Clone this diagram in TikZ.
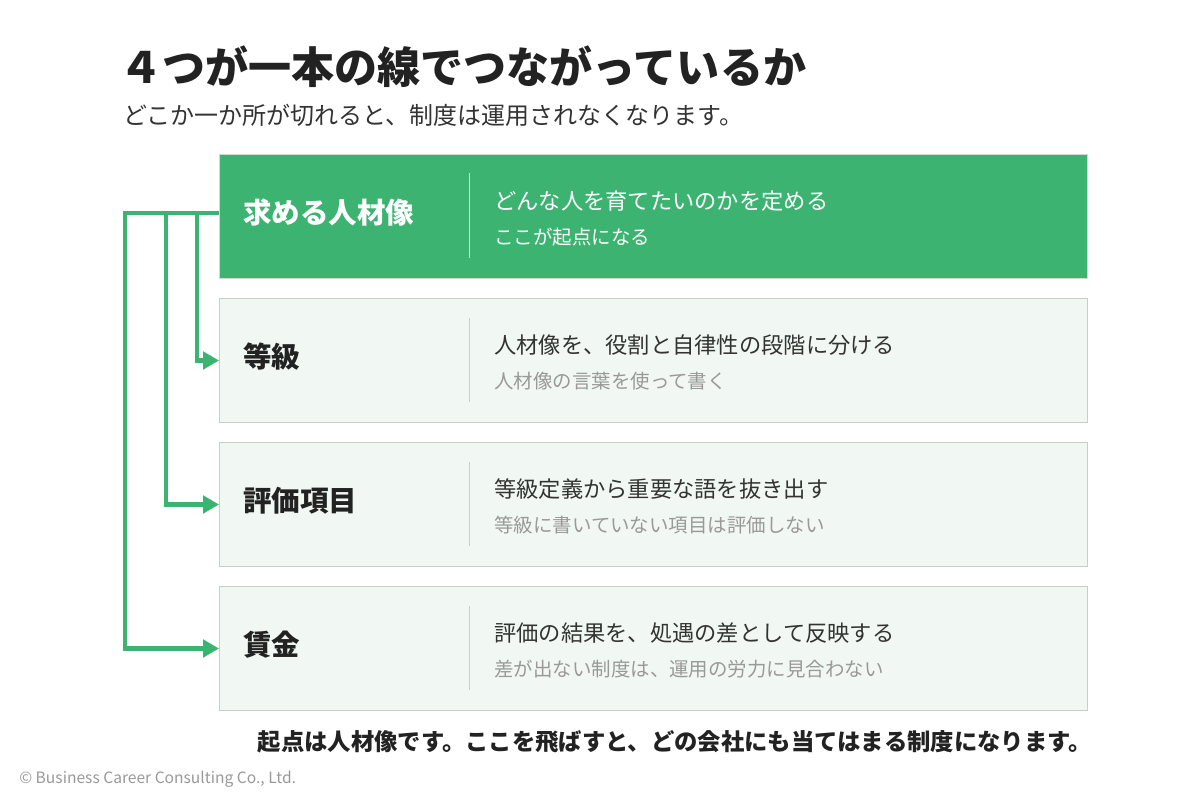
\documentclass[tikz,border=0pt]{standalone}
\usepackage{fontspec}
\setmainfont{Noto Sans CJK JP}
\usetikzlibrary{arrows.meta}
\definecolor{grn}{HTML}{3CB371}
\definecolor{lightbg}{HTML}{F1F8F4}
\definecolor{bord}{HTML}{CCCCCC}
\definecolor{dark}{HTML}{222222}
\definecolor{txt}{HTML}{333333}
\definecolor{sub}{HTML}{999999}
\tikzset{
  box/.style={draw=bord, fill=lightbg, line width=0.75pt, minimum width=651pt, minimum height=93pt, inner sep=0pt, anchor=north west},
  topbox/.style={box, fill=grn, draw=bord!80},
  ttl/.style={anchor=west, inner sep=0pt, font=\fontsize{21.4}{24}\selectfont\bfseries, text=dark},
  lineone/.style={anchor=west, inner sep=0pt, font=\fontsize{16.7}{20}\selectfont, text=txt},
  linetwo/.style={anchor=west, inner sep=0pt, font=\fontsize{14.6}{18}\selectfont, text=sub},
  divider/.style={draw=bord, line width=0.75pt},
  conn/.style={draw=grn, line width=3.2pt, line join=miter},
  tip/.style={-{Triangle[length=12pt,width=13pt]}}
}
\begin{document}
\begin{tikzpicture}[x=0.75pt,y=-0.75pt]
\fill[white] (0,0) rectangle (1200,800);
\useasboundingbox (0,0) rectangle (1200,800);
% title
\node[anchor=west, inner sep=0pt, font=\fontsize{32.3}{36}\selectfont\bfseries, text=dark] (title) at (119,67) {４つが一本の線でつながっているか};
\node[anchor=west, inner sep=0pt, font=\fontsize{18}{21}\selectfont, text=txt] (subtitle) at (123,115) {どこか一か所が切れると、制度は運用されなくなります。};
% boxes
\node[topbox] (b1) at (219,154) {};
\node[box] (b2) at (219,298) {};
\node[box] (b3) at (219,442) {};
\node[box] (b4) at (219,586) {};
% dividers
\draw[draw=white!75!grn, line width=0.75pt] (469,173) -- (469,258);
\draw[divider] (469,318) -- (469,402);
\draw[divider] (469,462) -- (469,546);
\draw[divider] (469,606) -- (469,690);
% box texts
\node[ttl, text=white] (t1) at (243,213) {求める人材像};
\node[lineone, text=white] (d1a) at (494,201) {どんな人を育てたいのかを定める};
\node[linetwo, text=white] (d1b) at (494,237) {ここが起点になる};
\node[ttl] (t2) at (243,357) {等級};
\node[lineone] (d2a) at (494,345) {人材像を、役割と自律性の段階に分ける};
\node[linetwo] (d2b) at (494,381) {人材像の言葉を使って書く};
\node[ttl] (t3) at (243,501) {評価項目};
\node[lineone] (d3a) at (494,489) {等級定義から重要な語を抜き出す};
\node[linetwo] (d3b) at (494,525) {等級に書いていない項目は評価しない};
\node[ttl] (t4) at (243,645) {賃金};
\node[lineone] (d4a) at (494,633) {評価の結果を、処遇の差として反映する};
\node[linetwo] (d4b) at (494,669) {差が出ない制度は、運用の労力に見合わない};
% connectors
\coordinate (c1) at (125,213);
\coordinate (c2) at (166,213);
\coordinate (c3) at (197,213);
\draw[conn, tip] (219,213) -- (c1) |- (b4.west);
\draw[conn, tip] (c2) |- (b3.west);
\draw[conn, tip] (c3) |- (b2.west);
% footer
\node[anchor=east, inner sep=0pt, font=\fontsize{17.5}{20}\selectfont\bfseries, text=dark] (foot) at (1092,742) {起点は人材像です。ここを飛ばすと、どの会社にも当てはまる制度になります。};
\node[anchor=west, inner sep=0pt, font=\fontsize{11.7}{14}\selectfont, text=sub] (copy) at (19,779) {© Business Career Consulting Co., Ltd.};
\end{tikzpicture}
\end{document}
